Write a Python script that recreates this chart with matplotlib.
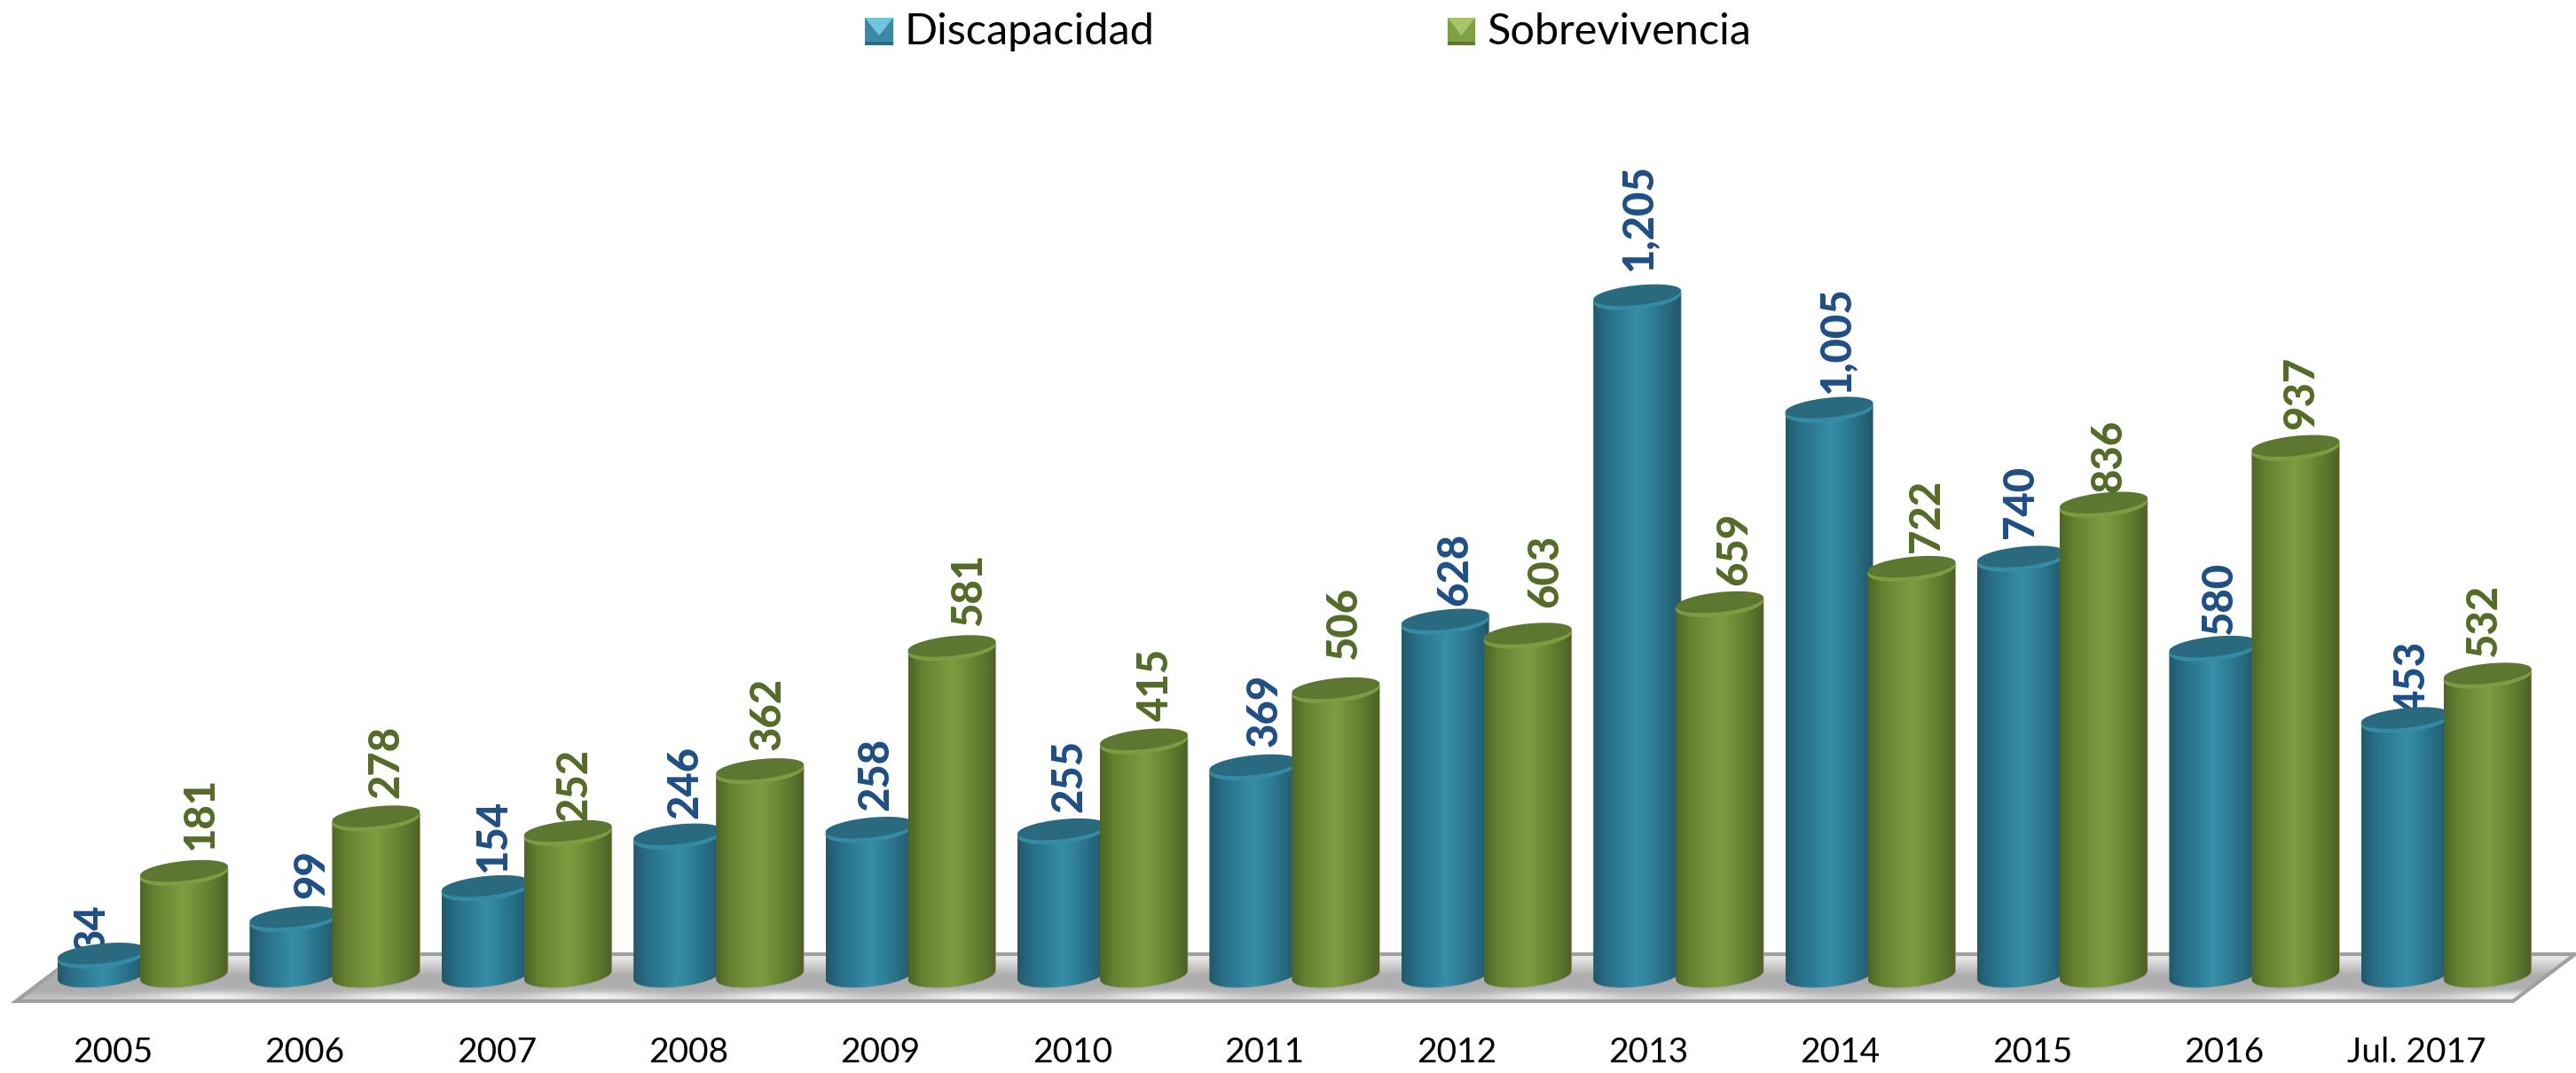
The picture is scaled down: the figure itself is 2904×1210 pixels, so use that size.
import numpy as np
import matplotlib
matplotlib.use('Agg')
import matplotlib.pyplot as plt
from matplotlib.colors import LinearSegmentedColormap
from matplotlib.patches import Polygon, PathPatch
from matplotlib.path import Path

plt.rcParams['font.family'] = ['Lato', 'DejaVu Sans']

anios = ['2005', '2006', '2007', '2008', '2009', '2010', '2011', '2012', '2013', '2014', '2015', '2016', 'Jul. 2017']
discapacidad = [34, 99, 154, 246, 258, 255, 369, 628, 1205, 1005, 740, 580, 453]
sobrevivencia = [181, 278, 252, 362, 581, 415, 506, 603, 659, 722, 836, 937, 532]
etiquetas_disc = ['34', '99', '154', '246', '258', '255', '369', '628', '1,205', '1,005', '740', '580', '453']
etiquetas_sobr = ['181', '278', '252', '362', '581', '415', '506', '603', '659', '722', '836', '937', '532']

W, H = 2904, 1210
PX_X = 216.4   # pixeles por categoria
PX_Y = 0.634   # pixeles por unidad
X0, Y0 = 161, 1100

fig = plt.figure(figsize=(W / 100, H / 100), dpi=100)
ax = fig.add_axes([0, 0, 1, 1])
ax.axis('off')
xlim = (-X0 / PX_X, (W - X0) / PX_X)
ylim = (-(H - Y0) / PX_Y, Y0 / PX_Y)


def px(x, y):
    return x / W, 1 - y / H


cm_azul = LinearSegmentedColormap.from_list('azul', ['#22586c', '#2a6f88', '#2f7d98', '#388fa9', '#307f99', '#286c82', '#22566a'])
cm_verde = LinearSegmentedColormap.from_list('verde', ['#506527', '#668230', '#71903a', '#7d9d40', '#6f8d37', '#5e7a2f', '#4d6126'])
grad_h = np.linspace(0, 1, 200).reshape(1, -1)

# piso gris con brillos al frente, entre los grupos
piso = [px(18, 1129), px(88, 1076), px(2903, 1076), px(2833, 1129)]
ax.add_patch(Polygon(piso, closed=True, transform=ax.transAxes, fc='none', ec='#a0a0a0', lw=3, zorder=1))
yy = np.linspace(0, 1, 54)
xx = np.arange(0, W, 4)
gris = np.interp(yy, [0, 0.08, 0.45, 0.8, 1], [0.90, 0.90, 0.68, 0.68, 0.80])
img = np.tile(gris.reshape(-1, 1), (1, len(xx)))
for i in range(len(anios)):
    cx = X0 + 73 + i * PX_X
    img += 0.2 * np.exp(-((xx - cx) / 70) ** 2) * np.exp(-((yy.reshape(-1, 1) - 0.9) / 0.12) ** 2)
im = ax.imshow(np.clip(img, 0, 1), cmap='gray', vmin=0, vmax=1, aspect='auto', zorder=0.9,
               extent=(0, 1, 1 - 1129 / H, 1 - 1076 / H), transform=ax.transAxes, interpolation='bilinear')
im.set_clip_path(Polygon(piso, closed=True, transform=ax.transAxes))

A = 49.5 / PX_X   # medio ancho
B = 13 / PX_Y     # medio alto de la elipse
S = 5 / PX_Y      # inclinacion de la elipse


def cilindro(c, v, cmap, color_tapa, color_borde, z):
    t1 = np.linspace(np.pi, 2 * np.pi, 50)
    t2 = np.linspace(0, np.pi, 50)
    xs = np.r_[c + A * np.cos(t1), c + A * np.cos(t2)]
    ys = np.r_[B * np.sin(t1) + S * np.cos(t1), v + B * np.sin(t2) + S * np.cos(t2)]
    cuerpo = PathPatch(Path(np.c_[xs, ys]), fc='none', ec='#9a9f9f', lw=0.5, zorder=z)
    ax.add_patch(cuerpo)
    im = ax.imshow(grad_h, cmap=cmap, aspect='auto', zorder=z - 0.1,
                   extent=(c - A, c + A, -2 * B, v + 2 * B))
    im.set_clip_path(cuerpo)
    # tapa con borde claro abajo
    t = np.linspace(0, 2 * np.pi, 100)
    ax.add_patch(Polygon(np.c_[c + A * np.cos(t), v + B * np.sin(t) + S * np.cos(t)], closed=True,
                         fc=color_borde, ec='none', zorder=z + 0.1))
    ax.add_patch(Polygon(np.c_[c + A * np.cos(t), v + 5 + 0.86 * B * np.sin(t) + S * np.cos(t)], closed=True,
                         fc=color_tapa, ec='none', zorder=z + 0.2))


OFF = 46.5 / PX_X
for i in range(len(anios)):
    cilindro(i - OFF, discapacidad[i], cm_azul, '#2a6a7f', '#358aa4', 3 + i)
    cilindro(i + OFF, sobrevivencia[i], cm_verde, '#5d7630', '#7d9c42', 3.5 + i)
    ax.text(i - 34 / PX_X, -(1198 - Y0) / PX_Y, anios[i], ha='center', va='baseline', fontsize=28, color='black', zorder=30)

# etiquetas detras de las barras, desplazamiento en pixeles
dx_disc = [-11, 20, 9, 9, 7, 9, 13, 11, 3, 9, 0, 7, 9]
dy_disc = [4, 24, 18, 21, 22, 22, 24, 19, 30, 19, 24, 16, 8]
dx_sobr = [19, 11, 7, 9, 19, 13, 9, 20, 17, 17, 6, 6, -4]
dy_sobr = [26, 24, 14, 24, 26, 24, 35, 33, 22, 19, 15, 22, 22]
for i in range(len(anios)):
    ax.annotate(etiquetas_disc[i], (i - OFF, discapacidad[i]), xytext=(dx_disc[i] * 0.72, dy_disc[i] * 0.72),
                textcoords='offset points', rotation=90, ha='center', va='bottom', fontsize=34,
                fontweight='black', color='#1f4e85', zorder=2)
    ax.annotate(etiquetas_sobr[i], (i + OFF, sobrevivencia[i]), xytext=(dx_sobr[i] * 0.72, dy_sobr[i] * 0.72),
                textcoords='offset points', rotation=90, ha='center', va='bottom', fontsize=34,
                fontweight='black', color='#546b28', zorder=2)


def icono(x0, x1, y0, y1, base, claro, oscuro):
    ax.add_patch(Polygon([px(x0, y0), px(x1, y0), px(x1, y1), px(x0, y1)], transform=ax.transAxes, fc=base, ec='none', zorder=20))
    xm = (x0 + x1) / 2
    ax.add_patch(Polygon([px(x0, y0), px(x1, y0), px(xm, y0 + 20)], transform=ax.transAxes, fc=claro, ec='none', zorder=21))
    ax.add_patch(Polygon([px(x0, y1), px(x1, y1), px(x1, y1 - 4), px(x0, y1 - 4)], transform=ax.transAxes, fc=oscuro, ec='none', zorder=21))


icono(975, 1007, 20, 51, '#3a8aa6', '#6fc6de', '#2b6b80')
icono(1632, 1663, 20, 51, '#7f9f45', '#a8c46a', '#5f7a30')
x, y = px(1020, 50)
ax.text(x, y, 'Discapacidad', transform=ax.transAxes, fontsize=35, color='black', va='baseline', ha='left')
x, y = px(1676, 50)
ax.text(x, y, 'Sobrevivencia', transform=ax.transAxes, fontsize=35, color='black', va='baseline', ha='left')

ax.set_xlim(*xlim)
ax.set_ylim(*ylim)
fig.savefig('out.png', dpi=100, facecolor='white')
